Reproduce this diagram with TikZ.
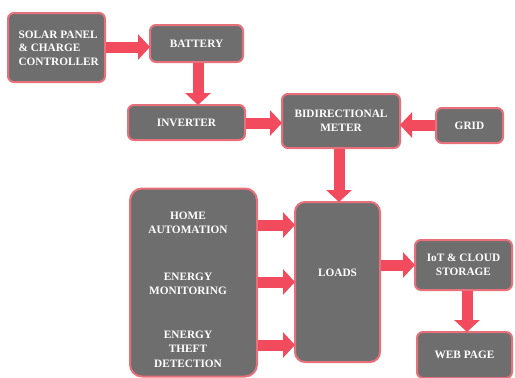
\documentclass[tikz,border=0pt]{standalone}
\usepackage{fontspec}
\setmainfont{Liberation Serif}
\usetikzlibrary{arrows.meta}
\definecolor{boxgrey}{HTML}{6E6E6E}
\definecolor{boxedge}{HTML}{E8707A}
\definecolor{flow}{HTML}{F24B5E}
\tikzset{
  block/.style={draw=boxedge, line width=2pt, fill=boxgrey, rounded corners=6pt,
    text=white, font=\bfseries\fontsize{11.3}{13.5}\selectfont, align=center,
    inner sep=0pt},
  flowarrow/.style={draw=flow, line width=11pt,
    -{Triangle[length=12pt,width=25pt]}, shorten >=-1pt},
  label/.style={text=white, font=\bfseries\fontsize{11.3}{14.5}\selectfont, align=center}
}
\begin{document}
\begin{tikzpicture}[x=1pt,y=-1pt]
\useasboundingbox (0,0) rectangle (515,378);
% generation and storage
\node[block, minimum width=97pt, minimum height=69pt] (solar) at (56.5,47.5) {};
\node[label, align=left, font=\bfseries\fontsize{11.3}{13.5}\selectfont, anchor=west] (solartext) at (15,48) {SOLAR PANEL\\\& CHARGE\\CONTROLLER};
\node[block, minimum width=93pt, minimum height=37pt] (battery) at (196.5,43.5) {BATTERY};
\node[block, minimum width=117pt, minimum height=35pt] (inverter) at (186.5,122.5) {INVERTER};
\node[block, minimum width=118pt, minimum height=54pt] (meter) at (341,121) {BIDIRECTIONAL\\METER};
\node[block, minimum width=67pt, minimum height=35pt] (grid) at (469.5,125.5) {GRID};
% consumption side
\node[block, minimum width=127pt, minimum height=188pt, rounded corners=12pt] (apps) at (193.5,282.5) {};
\node[label] (home) at (188,223) {HOME\\AUTOMATION};
\node[label] (monitor) at (188,284) {ENERGY\\MONITORING};
\node[label] (theft) at (188,349) {ENERGY\\THEFT\\DETECTION};
\node[block, minimum width=85pt, minimum height=160pt, rounded corners=10pt] (loads) at (337.5,282) {};
\node[label] (loadstext) at (337.5,273) {LOADS};
\node[block, minimum width=97pt, minimum height=50pt] (iot) at (463.5,265) {IoT \& CLOUD\\STORAGE};
\node[block, minimum width=95pt, minimum height=46pt] (web) at (464.5,355) {WEB PAGE};
% energy and data flow
\draw[flowarrow] (solar.east |- 0,47) -- (battery.west |- 0,47);
\draw[flowarrow] (battery.south -| 198,0) -- (inverter.north -| 198,0);
\draw[flowarrow] (inverter.east |- 0,123) -- (meter.west |- 0,123);
\draw[flowarrow] (grid.west |- 0,125) -- (meter.east |- 0,125);
\draw[flowarrow] (meter.south -| 339,0) -- (loads.north -| 339,0);
\coordinate (a1) at (apps.east |- 0,225);
\coordinate (a2) at (apps.east |- 0,282);
\coordinate (a3) at (apps.east |- 0,345);
\draw[flowarrow] (a1) -- (loads.west |- a1);
\draw[flowarrow] (a2) -- (loads.west |- a2);
\draw[flowarrow] (a3) -- (loads.west |- a3);
\draw[flowarrow] (loads.east |- 0,265) -- (iot.west |- 0,265);
\draw[flowarrow] (iot.south -| 467,0) -- (web.north -| 467,0);
\end{tikzpicture}
\end{document}
